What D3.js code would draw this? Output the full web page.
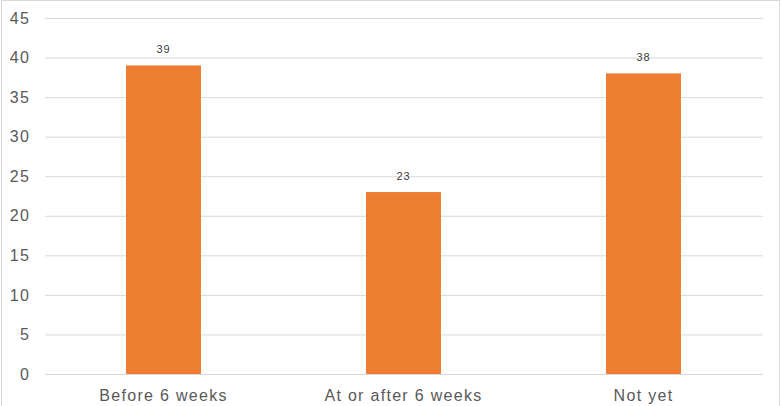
<!DOCTYPE html>
<html><head><meta charset="utf-8">
<script src="https://cdn.jsdelivr.net/npm/d3@7"></script>
<style>html,body{margin:0;padding:0;background:#fff;}svg{display:block;}</style>
</head><body>
<svg id="c" width="781" height="406"></svg>
<script>
const categories = ["Before 6 weeks", "At or after 6 weeks", "Not yet"];
const values = [39, 23, 38];
const yTicks = [0, 5, 10, 15, 20, 25, 30, 35, 40, 45];

const svg = d3.select("#c");
const W = 781, H = 406;
const FONT = "Arial, 'Liberation Sans', sans-serif";
svg.append("rect").attr("x", 1.5).attr("y", 0.5).attr("width", W - 3).attr("height", H + 5)
  .attr("fill", "#fff").attr("stroke", "#d9d9d9");

const x = d3.scaleBand().domain(categories).range([43.5, 763.5])
  .paddingInner(0.6875).paddingOuter(0.34375);
const y = d3.scaleLinear().domain([0, 45]).range([374, 18]);

// gridlines + y labels
const yAxis = d3.axisLeft(y).tickValues(yTicks).tickSize(-(763 - 45)).tickPadding(15);
const gy = svg.append("g").attr("transform", "translate(45,0)").call(yAxis);
gy.select(".domain").remove();
gy.selectAll(".tick line").attr("stroke", "#d9d9d9").attr("stroke-width", 1);
gy.selectAll(".tick text").attr("fill", "#595959").attr("font-family", FONT)
  .attr("font-size", 16).attr("letter-spacing", "1.2px");

// bars
svg.append("g").selectAll("rect").data(values).join("rect")
  .attr("x", (d, i) => x(categories[i]))
  .attr("y", d => y(d))
  .attr("width", x.bandwidth())
  .attr("height", d => y(0) - y(d))
  .attr("fill", "#ed7d31");

// value labels
svg.append("g").selectAll("text").data(values).join("text")
  .attr("x", (d, i) => x(categories[i]) + x.bandwidth() / 2)
  .attr("y", d => y(d) - 12)
  .attr("text-anchor", "middle")
  .attr("font-family", FONT)
  .attr("font-size", 11)
  .attr("letter-spacing", "1px")
  .attr("fill", "#404040")
  .text(d => d);

// x axis labels
const xAxis = d3.axisBottom(x).tickSize(0).tickPadding(16);
const gx = svg.append("g").attr("transform", "translate(0,374)").call(xAxis);
gx.select(".domain").remove();
gx.selectAll(".tick text").attr("fill", "#595959").attr("font-family", FONT)
  .attr("font-size", 16).attr("letter-spacing", "1.3px");
</script>
</body></html>
